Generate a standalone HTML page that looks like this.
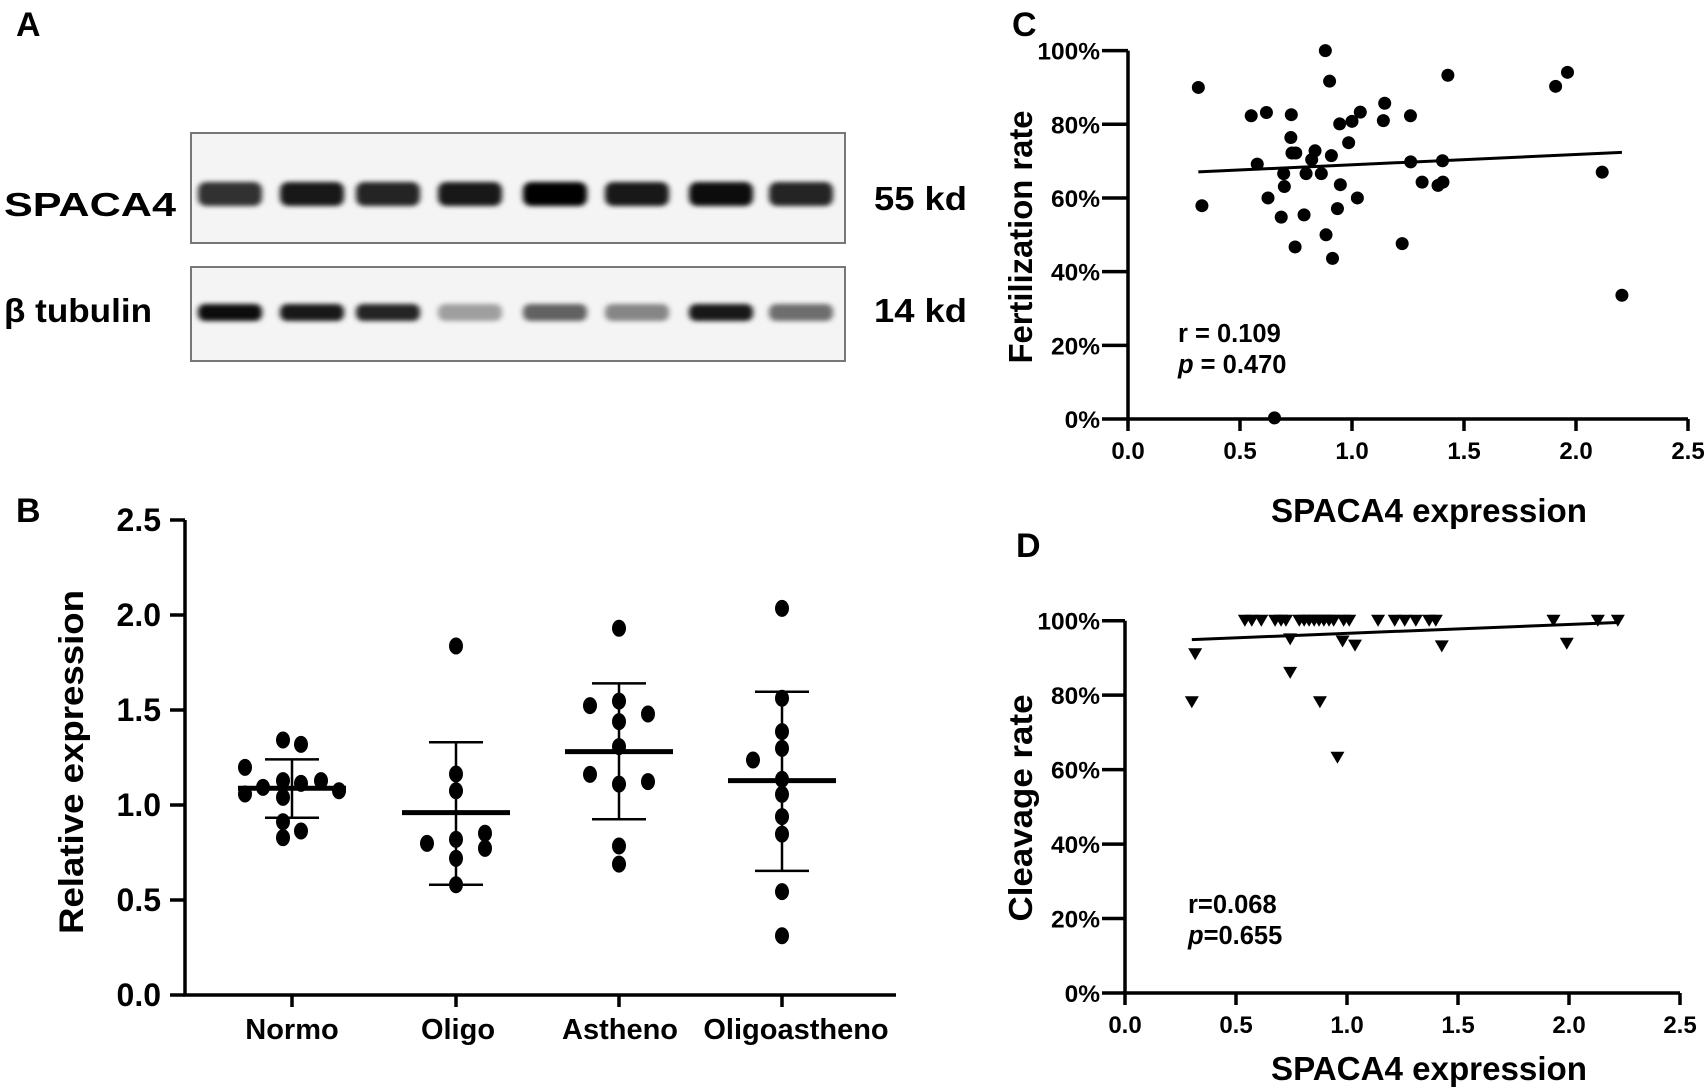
<!DOCTYPE html>
<html><head><meta charset="utf-8"><style>
html,body{margin:0;padding:0;background:#fff}
svg{display:block;font-family:"Liberation Sans",Arial,sans-serif;font-weight:bold}
</style></head><body>
<svg id="fig" width="1705" height="1088" viewBox="0 0 1705 1088" xmlns="http://www.w3.org/2000/svg">
<defs><filter id="blur" x="-30%" y="-100%" width="160%" height="300%"><feGaussianBlur stdDeviation="3 2.5"/></filter></defs>
<g font-size="34">
<text x="16" y="36">A</text>
<text x="16" y="522">B</text>
<text x="1012" y="36">C</text>
<text x="1016" y="557">D</text>
</g>
<g id="blot">
<rect x="191" y="133" width="654" height="110" fill="#f4f4f4" stroke="#777" stroke-width="2"/>
<rect x="191" y="267" width="654" height="94" fill="#f4f4f4" stroke="#777" stroke-width="2"/>
<text x="4" y="216" font-size="33" textLength="172" lengthAdjust="spacingAndGlyphs">SPACA4</text>
<text x="4" y="322" font-size="33" textLength="148" lengthAdjust="spacingAndGlyphs">β tubulin</text>
<text x="874" y="210" font-size="33" textLength="93" lengthAdjust="spacingAndGlyphs">55 kd</text>
<text x="874" y="322" font-size="33" textLength="93" lengthAdjust="spacingAndGlyphs">14 kd</text>
</g>
<g id="pb"></g>
<g id="pc"></g>
<g id="pd"></g>
</svg>
<script>
const NS="http://www.w3.org/2000/svg";
function mk(parent,tag,attrs,text){const e=document.createElementNS(NS,tag);for(const k in attrs)e.setAttribute(k,attrs[k]);if(text!==undefined)e.textContent=text;parent.appendChild(e);return e;}

// ---- Blot data ----
const laneX=[230,312,388,470,555,637,721,801];
const spacaIntensity=[0.8,0.9,0.85,0.9,1.0,0.9,0.95,0.85];
const tubulinIntensity=[0.95,0.9,0.85,0.35,0.6,0.45,0.9,0.55];
const blot=document.getElementById('blot');
laneX.forEach((x,i)=>{
  let b=mk(blot,'rect',{x:x-32,y:182,width:64,height:24,rx:8,fill:'#000','fill-opacity':spacaIntensity[i],filter:'url(#blur)'});
  
  
  let t=mk(blot,'rect',{x:x-32,y:304,width:64,height:17,rx:7,fill:'#000','fill-opacity':tubulinIntensity[i],filter:'url(#blur)'});
  
  
});

// ---- Panel B ----
const bCategories=['Normo','Oligo','Astheno','Oligoastheno'];
const bNormo=[1.342,1.319,1.198,1.093,1.058,1.128,1.114,1.128,1.075,1.04,0.912,0.863,0.828];
const bOligo=[1.837,1.163,1.075,0.798,0.819,0.851,0.772,0.719,0.58];
const bAstheno=[1.93,1.523,1.547,1.479,1.439,1.307,1.161,1.11,1.123,0.784,0.689];
const bOligoastheno=[2.035,1.562,1.237,1.386,1.298,1.135,1.056,0.939,0.847,0.544,0.312];
const bOffsets=[[-9,9,-47,-29,-47,-9,9,29,47,-9,-9,9,-9],[0,0,0,-29,0,29,29,0,0],[0,-29,0,29,0,0,-29,0,29,0,0],[0,0,-29,0,0,0,0,0,0,0,0]];
const bMean=[1.088,0.96,1.281,1.128];
const bSdHigh=[1.24,1.33,1.64,1.596];
const bSdLow=[0.933,0.58,0.925,0.653];
const bTicks=[0,0.5,1.0,1.5,2.0,2.5];
const bGroups=[bNormo,bOligo,bAstheno,bOligoastheno];
const pb=document.getElementById('pb');
const bY=v=>995-v*190;
const bX=i=>[292,456,619,782][i];
const bLabelX=[292,458,620,796];
let ax=mk(pb,'path',{d:`M185 ${bY(2.5)} V995 H896`,stroke:'#000','stroke-width':3.5,fill:'none'});


bTicks.forEach(t=>{
  mk(pb,'line',{x1:170,x2:185,y1:bY(t),y2:bY(t),stroke:'#000','stroke-width':3.5});
  let l=mk(pb,'text',{x:161,y:bY(t)+11,'text-anchor':'end','font-size':32},t.toFixed(1));
  
  
});
let bt=mk(pb,'text',{transform:'translate(83,762) rotate(-90)','text-anchor':'middle','font-size':34,textLength:344,lengthAdjust:'spacingAndGlyphs'},'Relative expression');


bCategories.forEach((c,i)=>{
  const x=bX(i);
  mk(pb,'line',{x1:x,x2:x,y1:995,y2:1007,stroke:'#000','stroke-width':3.5});
  let l=mk(pb,'text',{x:bLabelX[i],y:1039,'text-anchor':'middle','font-size':29},c);
  
  
  bGroups[i].forEach((v,j)=>{
    let d=mk(pb,'ellipse',{cx:x+bOffsets[i][j],cy:bY(v),rx:7,ry:8.5,fill:'#000'});
    
    
  });
  let sd=mk(pb,'path',{d:`M${x} ${bY(bSdHigh[i])} V${bY(bSdLow[i])} M${x-27} ${bY(bSdHigh[i])} h54 M${x-27} ${bY(bSdLow[i])} h54`,stroke:'#000','stroke-width':2.5,fill:'none'});
  
  
  let m=mk(pb,'line',{x1:x-54,x2:x+54,y1:bY(bMean[i]),y2:bY(bMean[i]),stroke:'#000','stroke-width':5});
  
  
});

// ---- Panel C ----
const cX=[0.314,0.33,0.55,0.618,0.577,0.625,0.684,0.695,0.698,0.729,0.727,0.732,0.749,0.746,0.786,0.795,0.82,0.835,0.863,0.881,0.9,0.884,0.908,0.913,0.935,0.945,0.948,0.985,1.0,1.024,1.037,1.14,1.146,1.224,1.261,1.262,1.313,1.384,1.406,1.404,1.428,1.909,1.962,2.117,2.205,0.654];
const cY=[90.0,57.9,82.3,83.2,69.2,60.0,54.8,66.6,63.1,82.6,76.4,72.2,72.2,46.7,55.4,66.6,70.4,72.8,66.6,100,91.7,50.0,71.5,43.6,57.1,80.1,63.6,75.0,80.8,60.0,83.3,81.0,85.7,47.6,82.3,69.8,64.3,63.4,64.3,70.1,93.3,90.3,94.1,67.0,33.6,0.3];
const cFit=[66.2,2.8];
const cXTicks=[0,0.5,1.0,1.5,2.0,2.5];
const cYTicks=[0,20,40,60,80,100];
// ---- Panel D ----
const dX=[0.54,0.571,0.614,0.676,0.703,0.725,0.785,0.807,0.829,0.852,0.874,0.896,0.919,0.94,0.985,1.01,1.14,1.215,1.26,1.31,1.37,1.40,1.93,2.13,2.22,0.744,0.98,1.036,1.427,0.316,0.744,0.301,0.878,0.957,1.99];
const dY=[100,100,100,100,100,100,100,100,100,100,100,100,100,100,100,100,100,100,100,100,100,100,100,100,100,95.0,94.4,93.3,93.1,91.0,86.0,78.1,78.1,63.2,93.8];
const dFit=[94.2,2.4];

function scatter(g,o){
  const sx=v=>o.x0+v*o.xs, sy=v=>o.y0-v*o.ys;
  let a=mk(g,'path',{d:`M${o.x0} ${sy(100)} V${o.y0} H${sx(2.5)}`,stroke:'#000','stroke-width':3.5,fill:'none'});
  
  
  cYTicks.forEach(t=>{
    mk(g,'line',{x1:1102,x2:o.x0,y1:sy(t),y2:sy(t),stroke:'#000','stroke-width':3.5});
    let l=mk(g,'text',{x:1100,y:sy(t)+9,'text-anchor':'end','font-size':24.5},t+'%');
    
    
  });
  cXTicks.forEach(t=>{
    mk(g,'line',{x1:sx(t),x2:sx(t),y1:o.y0,y2:o.y0+12,stroke:'#000','stroke-width':3.5});
    let l=mk(g,'text',{x:sx(t),y:o.y0+40,'text-anchor':'middle','font-size':24},t.toFixed(1));
    
    
  });
  let xt=mk(g,'text',{x:1429,y:o.xTitleY,'text-anchor':'middle','font-size':33,textLength:316,lengthAdjust:'spacingAndGlyphs'},'SPACA4 expression');
  
  
  let yt=mk(g,'text',{transform:`translate(1032,${o.yTitleC}) rotate(-90)`,'text-anchor':'middle','font-size':33,textLength:o.yLen,lengthAdjust:'spacingAndGlyphs'},o.yTitle);
  
  
  o.xs_.forEach((v,i)=>{
    const px=sx(v), py=sy(o.ys_[i]);
    let m;
    if(o.tri) m=mk(g,'path',{d:`M${px-7} ${py-6} h14 l-7 12 z`,fill:'#000'});
    else m=mk(g,'circle',{cx:px,cy:py,r:6.5,fill:'#000'});
    
    
  });
  const xa=Math.min(...o.xs_), xb=Math.max(...o.xs_);
  let f=mk(g,'line',{x1:sx(xa),x2:sx(xb),y1:sy(o.fit[0]+o.fit[1]*xa),y2:sy(o.fit[0]+o.fit[1]*xb),stroke:'#000','stroke-width':3});
  
  
  let r=mk(g,'text',{x:o.tx,y:o.ty,'font-size':25.5},o.r);
  
  
  let p=mk(g,'text',{x:o.tx,y:o.ty+31,'font-size':25.5});
  
  
  mk(p,'tspan',{'font-style':'italic'},'p');
  mk(p,'tspan',{},o.pv);
}
scatter(document.getElementById('pc'),{p:'c',x0:1128,xs:224,y0:419,ys:3.684,xs_:cX,ys_:cY,fit:cFit,tri:false,xTitleY:522,yTitle:'Fertilization rate',yLen:253,yTitleC:237,tx:1178,ty:342,r:'r = 0.109',pv:' = 0.470'});
scatter(document.getElementById('pd'),{p:'d',x0:1125,xs:222,y0:993,ys:3.723,xs_:dX,ys_:dY,fit:dFit,tri:true,xTitleY:1080,yTitle:'Cleavage rate',yLen:227,yTitleC:808,tx:1188,ty:913,r:'r=0.068',pv:'=0.655'});
</script>
</body></html>
